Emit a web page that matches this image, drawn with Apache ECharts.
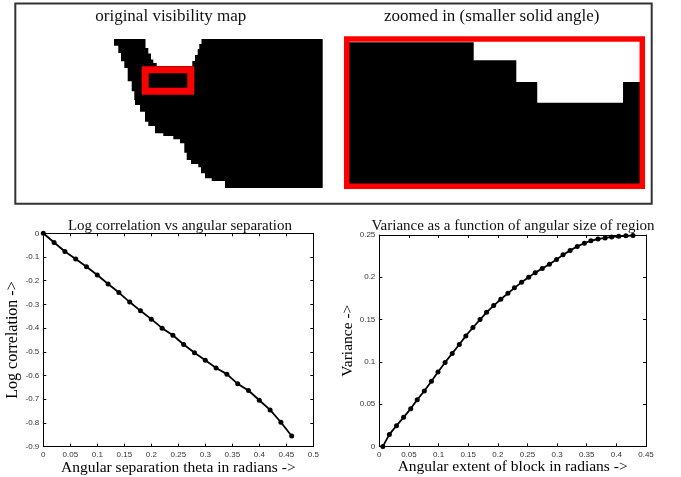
<!DOCTYPE html>
<html><head><meta charset="utf-8">
<script src="https://cdn.jsdelivr.net/npm/echarts@6/dist/echarts.min.js"></script>
<style>html,body{margin:0;padding:0;background:#fff}#c{width:681px;height:477px}</style>
</head><body><div id="c"></div>
<script>
// ---- Visibility map (map units, origin at top-left of the map image) ----
const visMapBlack = [[0,0],[31.5,0],[31.5,9],[34.3,9],[34.3,14.5],[37,14.5],[37,20.5],[39.3,20.5],[39.3,24],[42.7,24],[42.7,27],[78.3,27],[78.3,22],[81,22],[81,16],[83.7,16],[83.7,10],[85.3,10],[85.3,5],[87.5,5],[87.5,0],[208.7,0],[208.7,149],[111,149],[111,142],[97.7,142],[97.7,139.3],[91,139.3],[91,134.3],[87,134.3],[87,128.3],[84.3,128.3],[84.3,125],[77,125],[77,121],[72.7,121],[72.7,113.7],[70.3,113.7],[70.3,104.3],[66,104.3],[66,100.3],[59.3,100.3],[59.3,97],[49.3,97],[49.3,94.3],[41,94.3],[41,87],[34.3,87],[34.3,82.7],[31,82.7],[31,72.7],[26,72.7],[26,66],[21,66],[21,61],[20.3,61],[20.3,52.3],[17.7,52.3],[17.7,42.3],[13.7,42.3],[13.7,29],[10.3,29],[10.3,22.3],[7,22.3],[7,14],[4.3,14],[4.3,6.7],[0,6.7]];
const visMapRegion = [31.2, 30.8, 76.8, 52.2];
// ---- Zoomed-in map ----
const zoomBlack = [[0,0],[125,0],[125,18],[167.7,18],[167.7,39.7],[188.7,39.7],[188.7,60.7],[274.7,60.7],[274.7,39.7],[292,39.7],[292,142],[0,142]];
const zoomFrame = [-2.3, -3.3, 294, 144.2];

// ---- Log correlation vs angular separation ----
const sepTheta = [0,0.02,0.04,0.06,0.08,0.10,0.12,0.14,0.16,0.18,0.20,0.22,0.24,0.26,0.28,0.30,0.32,0.34,0.36,0.38,0.40,0.42,0.44,0.46];
const logCorr = [0,-0.039,-0.077,-0.108,-0.141,-0.176,-0.214,-0.25,-0.29,-0.327,-0.362,-0.4,-0.43,-0.469,-0.504,-0.535,-0.568,-0.594,-0.635,-0.663,-0.704,-0.745,-0.797,-0.855];
const logXTicks = ['0','0.05','0.1','0.15','0.2','0.25','0.3','0.35','0.4','0.45','0.5'];
const logYTicks = ['-0.9','-0.8','-0.7','-0.6','-0.5','-0.4','-0.3','-0.2','-0.1','0'];

// ---- Variance vs angular size ----
const blockExtent = [0.006,0.017,0.029,0.041,0.053,0.064,0.076,0.088,0.099,0.111,0.123,0.135,0.146,0.158,0.170,0.181,0.193,0.205,0.217,0.228,0.240,0.252,0.263,0.275,0.287,0.299,0.310,0.322,0.334,0.346,0.357,0.369,0.381,0.392,0.404,0.416,0.428];
const variance = [0,0.0142,0.0245,0.0344,0.0446,0.0553,0.0655,0.077,0.088,0.0992,0.110,0.1205,0.1307,0.1406,0.150,0.1585,0.1665,0.174,0.181,0.1875,0.194,0.200,0.2055,0.2105,0.2155,0.221,0.2265,0.2318,0.2365,0.2403,0.2432,0.2452,0.2466,0.2477,0.2485,0.249,0.2494];
const varXTicks = ['0','0.05','0.1','0.15','0.2','0.25','0.3','0.35','0.4','0.45'];
const varYTicks = ['0','0.05','0.1','0.15','0.2','0.25'];

const chart = echarts.init(document.getElementById('c'), null, {renderer:'canvas'});
const serif = 'Liberation Serif';
const tickFont = {fontFamily:'Liberation Sans', fontSize:8, color:'#333'};

function zip(a,b){ return a.map((v,i)=>[v,b[i]]); }
function polyRender(points, color){
  return function(params, api){
    if (params.dataIndex !== 0) return null;
    return {type:'polygon', shape:{points:points.map(p=>api.coord(p))}, style:{fill:color}};
  };
}
function rectRender(r, color, lw){
  return function(params, api){
    if (params.dataIndex !== 0) return null;
    const a = api.coord([r[0], r[1]]), b = api.coord([r[2], r[3]]);
    return {type:'rect', shape:{x:Math.min(a[0],b[0]), y:Math.min(a[1],b[1]), width:Math.abs(b[0]-a[0]), height:Math.abs(b[1]-a[1])},
      style:{fill:'none', stroke:color, lineWidth:lw}};
  };
}
function hiddenAxis(gi, max, inverse){
  return {type:'value', gridIndex:gi, min:0, max:max, inverse:!!inverse, show:false, splitLine:{show:false}};
}
function plotAxis(gi, pos, min, max, interval, labels, showLabel, extra){
  const o = {type:'value', gridIndex:gi, position:pos, min:min, max:max, interval:interval,
    axisLine:{show:true, onZero:false, lineStyle:{color:'#000', width:1}},
    axisTick:{show:true, inside:true, length:3, lineStyle:{color:'#000', width:1}},
    splitLine:{show:false},
    axisLabel:{show:showLabel, ...tickFont, margin:4,
      formatter:(v)=>labels[Math.round((v-min)/interval)]}};
  return Object.assign(o, extra||{});
}

const option = {
  animation:false,
  backgroundColor:'#fff',
  grid:[
    {left:114, top:39, width:209, height:149},
    {left:349, top:42.3, width:291.3, height:141.7},
    {left:43.3, top:233.3, width:270, height:213.4},
    {left:379.3, top:235, width:266.7, height:211.4}
  ],
  xAxis:[
    hiddenAxis(0, 209),
    hiddenAxis(1, 292),
    plotAxis(2,'bottom',0,0.5,0.05,logXTicks,true,{name:'Angular separation theta in radians ->', nameLocation:'middle', nameGap:11,
      nameTextStyle:{fontFamily:serif, fontSize:15.5, color:'#000'}}),
    plotAxis(2,'top',0,0.5,0.05,logXTicks,false),
    plotAxis(3,'bottom',0,0.45,0.05,varXTicks,true,{name:'Angular extent of block in radians ->', nameLocation:'middle', nameGap:11,
      nameTextStyle:{fontFamily:serif, fontSize:15.5, color:'#000'}}),
    plotAxis(3,'top',0,0.45,0.05,varXTicks,false)
  ],
  yAxis:[
    hiddenAxis(0, 149, true),
    hiddenAxis(1, 142, true),
    plotAxis(2,'left',-0.9,0,0.1,logYTicks,true,{name:'Log correlation ->', nameLocation:'middle', nameGap:23, nameRotate:90,
      nameTextStyle:{fontFamily:serif, fontSize:16, color:'#000'}}),
    plotAxis(2,'right',-0.9,0,0.1,logYTicks,false),
    plotAxis(3,'left',0,0.25,0.05,varYTicks,true,{name:'Variance ->', nameLocation:'middle', nameGap:21, nameRotate:90,
      nameTextStyle:{fontFamily:serif, fontSize:15.5, color:'#000'}}),
    plotAxis(3,'right',0,0.25,0.05,varYTicks,false)
  ],
  series:[
    {type:'custom', xAxisIndex:0, yAxisIndex:0, data:[[0,0]], renderItem:polyRender(visMapBlack,'#000'), silent:true, clip:false},
    {type:'custom', xAxisIndex:0, yAxisIndex:0, data:[[0,0]], renderItem:rectRender(visMapRegion,'#ff0000',7), silent:true, clip:false, z:3},
    {type:'custom', xAxisIndex:1, yAxisIndex:1, data:[[0,0]], renderItem:polyRender(zoomBlack,'#000'), silent:true, clip:false},
    {type:'custom', xAxisIndex:1, yAxisIndex:1, data:[[0,0]], renderItem:rectRender(zoomFrame,'#ff0000',5.5), silent:true, clip:false, z:3},
    {type:'line', xAxisIndex:2, yAxisIndex:2, data:zip(sepTheta, logCorr), symbol:'circle', symbolSize:5,
      lineStyle:{color:'#000', width:1.8}, itemStyle:{color:'#000'}, silent:true},
    {type:'line', xAxisIndex:4, yAxisIndex:4, data:zip(blockExtent, variance), symbol:'circle', symbolSize:5,
      lineStyle:{color:'#000', width:1.8}, itemStyle:{color:'#000'}, silent:true}
  ],
  graphic:[
    {type:'rect', shape:{x:15.3, y:3.5, width:636.4, height:200.2}, style:{fill:'none', stroke:'#333', lineWidth:2}, silent:true},
    {type:'text', x:170.8, y:17, style:{text:'original visibility map', font:'17px "Liberation Serif"', fill:'#111', align:'center', verticalAlign:'middle'}},
    {type:'text', x:491.7, y:17, style:{text:'zoomed in (smaller solid angle)', font:'17px "Liberation Serif"', fill:'#111', align:'center', verticalAlign:'middle'}},
    {type:'text', x:180, y:226, style:{text:'Log correlation vs angular separation', font:'15px "Liberation Serif"', fill:'#111', align:'center', verticalAlign:'middle'}},
    {type:'text', x:513, y:226, style:{text:'Variance as a function of angular size of region', font:'15px "Liberation Serif"', fill:'#111', align:'center', verticalAlign:'middle'}}
  ]
};
chart.setOption(option);
</script>
</body></html>
